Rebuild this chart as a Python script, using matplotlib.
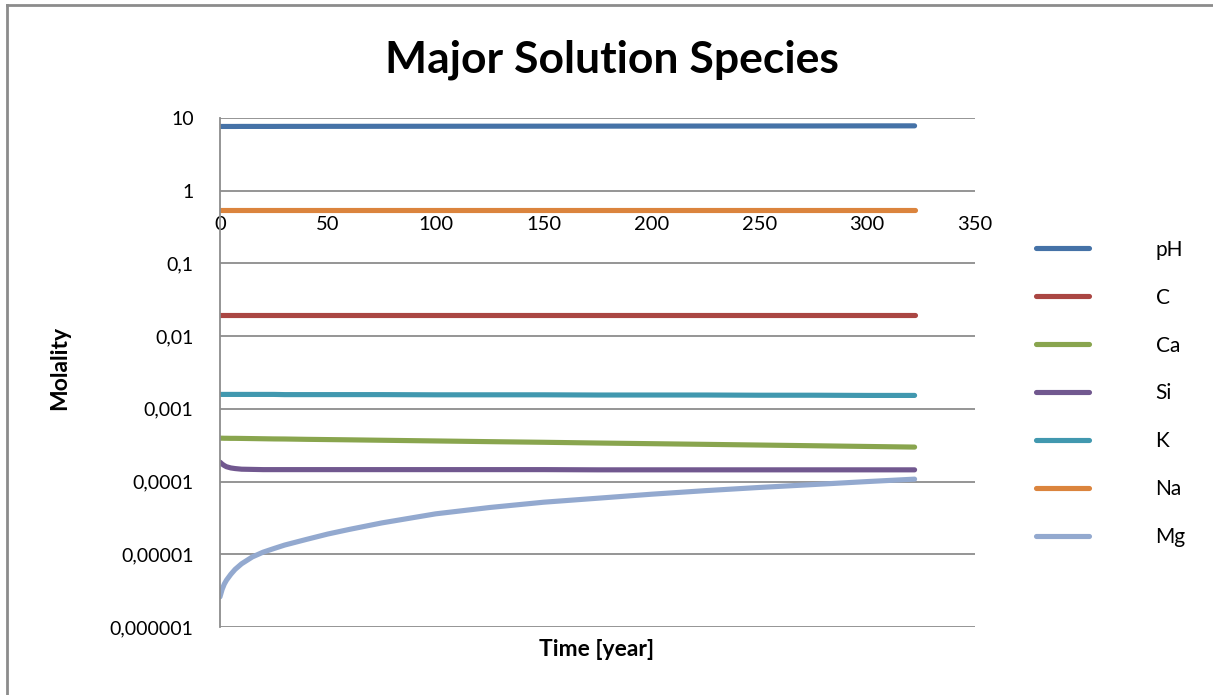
import matplotlib
matplotlib.use("Agg")
import matplotlib.pyplot as plt
from matplotlib.lines import Line2D
from matplotlib.ticker import FixedLocator, NullLocator

plt.rcParams['font.family'] = ['Lato', 'DejaVu Sans']

# time in years
t = [0, 1, 2, 3, 5, 7, 10, 15, 20, 25, 30, 40, 50, 60, 75,
     100, 125, 150, 175, 200, 225, 250, 275, 300, 322]

ph = [7.65, 7.65, 7.65, 7.65, 7.65, 7.65, 7.66, 7.66, 7.66, 7.66, 7.67, 7.67, 7.68,
      7.68, 7.69, 7.70, 7.71, 7.72, 7.73, 7.74, 7.75, 7.76, 7.77, 7.79, 7.80]
c = [0.0195] * 25
ca = [3.95e-4, 3.95e-4, 3.94e-4, 3.94e-4, 3.93e-4, 3.93e-4, 3.92e-4, 3.90e-4, 3.88e-4,
      3.86e-4, 3.85e-4, 3.81e-4, 3.78e-4, 3.75e-4, 3.70e-4, 3.62e-4, 3.54e-4, 3.47e-4,
      3.39e-4, 3.32e-4, 3.25e-4, 3.18e-4, 3.11e-4, 3.04e-4, 2.98e-4]
si = [1.85e-4, 1.74e-4, 1.66e-4, 1.60e-4, 1.54e-4, 1.51e-4, 1.48e-4, 1.47e-4, 1.46e-4,
      1.46e-4, 1.46e-4, 1.46e-4, 1.46e-4, 1.46e-4, 1.46e-4, 1.46e-4, 1.46e-4, 1.46e-4,
      1.45e-4, 1.45e-4, 1.45e-4, 1.45e-4, 1.45e-4, 1.45e-4, 1.45e-4]
k = [1.58e-3, 1.58e-3, 1.58e-3, 1.58e-3, 1.58e-3, 1.58e-3, 1.58e-3, 1.58e-3, 1.58e-3,
     1.58e-3, 1.57e-3, 1.57e-3, 1.57e-3, 1.57e-3, 1.57e-3, 1.56e-3, 1.56e-3, 1.56e-3,
     1.55e-3, 1.55e-3, 1.55e-3, 1.54e-3, 1.54e-3, 1.53e-3, 1.53e-3]
na = [0.54] * 25
mg = [2.6e-6, 3.3e-6, 3.9e-6, 4.4e-6, 5.3e-6, 6.2e-6, 7.4e-6, 9.2e-6, 1.07e-5,
      1.2e-5, 1.34e-5, 1.6e-5, 1.9e-5, 2.2e-5, 2.7e-5, 3.6e-5, 4.4e-5, 5.2e-5,
      5.9e-5, 6.7e-5, 7.5e-5, 8.3e-5, 9.1e-5, 1.0e-4, 1.08e-4]

series = [("pH", ph, "#4572A7"), ("C", c, "#AA4643"), ("Ca", ca, "#89A54E"),
          ("Si", si, "#71588F"), ("K", k, "#4198AF"), ("Na", na, "#DB843D"),
          ("Mg", mg, "#93A9CF")]

y_ticks = [1e-6, 1e-5, 1e-4, 1e-3, 1e-2, 1e-1, 1, 10]
y_labels = ["0,000001", "0,00001", "0,0001", "0,001", "0,01", "0,1", "1", "10"]
x_ticks = [0, 50, 100, 150, 200, 250, 300, 350]

W, H = 1213, 695
fig = plt.figure(figsize=(W / 100, H / 100), dpi=100)
ax = fig.add_axes([220 / W, 1 - 627 / H, 755 / W, 509 / H])

for name, vals, col in series:
    ax.plot(t, vals, color=col, lw=3.7, label=name, solid_capstyle='round')

ax.set_yscale('log')
ax.set_ylim(1e-6, 10)
ax.set_xlim(0, 350)
ax.yaxis.set_major_locator(FixedLocator(y_ticks))
ax.yaxis.set_minor_locator(NullLocator())
ax.set_yticklabels(y_labels)
ax.set_xticks(x_ticks)
ax.grid(axis='y', color='#8c8c8c', lw=1.3)
ax.set_axisbelow(True)

# x axis crosses at y = 1
ax.spines['bottom'].set_position(('data', 1))
ax.spines['bottom'].set_visible(False)
ax.spines['top'].set_visible(False)
ax.spines['right'].set_visible(False)
ax.spines['left'].set_color('#8c8c8c')
ax.spines['left'].set_linewidth(1.3)
ax.tick_params(axis='y', length=0, pad=19, labelsize=14)
ax.tick_params(axis='x', length=0, pad=18, labelsize=14.5)

fig.text(597 / W, 1 - 650 / H, "Time [year]", ha='center', va='center',
         fontsize=16.5, fontweight='bold')
fig.text(60 / W, 1 - 368 / H, "Molality", ha='center', va='center',
         rotation=90, fontsize=16.5, fontweight='bold')
fig.text(612 / W, 1 - 60 / H, "Major Solution Species", ha='center', va='center',
         fontsize=32, fontweight='bold')

leg = ax.legend(loc='upper left', bbox_to_anchor=(1017 / W, 1 - 221 / H),
                bbox_transform=fig.transFigure, frameon=False, fontsize=15,
                handlelength=2.55, handletextpad=3.2, labelspacing=1.34)

# chart area border (left and top visible)
fig.add_artist(Line2D([7 / W, 7 / W], [0, 1 - 5 / H], color='#8c8c8c', lw=2))
fig.add_artist(Line2D([7 / W, 1], [1 - 5 / H, 1 - 5 / H], color='#8c8c8c', lw=2))

fig.savefig("out.png", dpi=100)
